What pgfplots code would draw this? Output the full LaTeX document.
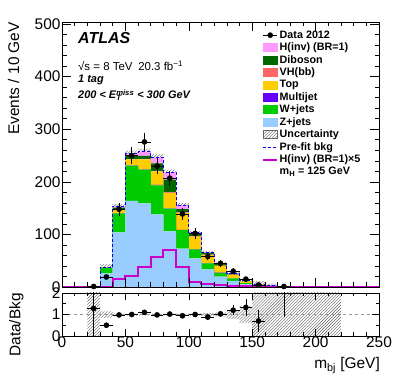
\documentclass[border=0pt]{standalone}
\usepackage{fontspec}
\setmainfont{Liberation Sans}
\usepackage{pgfplots}
\pgfplotsset{compat=1.18}
\usepackage{pgfplotstable}
\usepgfplotslibrary{fillbetween}
\usetikzlibrary{patterns}

\definecolor{zj}{RGB}{153,204,255}
\definecolor{wj}{RGB}{0,204,0}
\definecolor{mj}{RGB}{102,0,255}
\definecolor{topc}{RGB}{255,204,0}
\definecolor{vh}{RGB}{255,102,102}
\definecolor{dib}{RGB}{0,102,0}
\definecolor{hinv}{RGB}{255,153,255}
\definecolor{sigc}{RGB}{204,0,204}

% stacked backgrounds, per 10 GeV bin (lower edge)
\pgfplotstableread{
lo   Z     W    MJ   Top  VH   Dib  Sig
20   0.6   0.2  0    0    0    0    0
30   26    10   0.2  1    0    0.5  0.1
40   104   36   0.5  6    0.5  4    3
50   164   67   0.5  11   0.5  6    4.3
60   159   64   0.5  19   1    6    7.6
70   138   55.5 0.5  26   1    14   11.5
80   106   43   0.5  29   1.5  24   14
90   73    35   0.5  32   1.5  6    7.7
100  54.5  17   0.3  24   1    5    2
110  33.6  11.4 0.2  15.7 0.5  3.6  1.2
120  19.5  7.5  0.2  13   0.3  3    0.7
130  11.5  5    0.1  6.5  0.2  1.7  0.4
140  5.5   1.8  0.1  3.2  0.1  0.6  0.3
150  2.5   0.8  0    1.5  0    0.5  0.2
160  1.5   0.5  0    0.8  0    0.2  0.1
170  0.3   0.1  0    0.1  0    0    0
180  0.6   0.2  0    0.3  0    0    0
190  0.4   0.1  0    0.2  0    0    0
200  0.3   0.1  0    0.1  0    0    0
210  0.2   0.1  0    0.1  0    0    0
220  0     0    0    0    0    0    0
}\stacktab

% uncertainty band and pre-fit bkg
\pgfplotstableread{
lo   blo    bhi    pre
20   0      1.6    0.8
30   32.1   43.5   37.8
40   150.2  157.8  154
50   247.1  259.5  253.3
60   250.9  263.3  257.1
70   240.6  252.4  246.5
80   212.9  223.1  218
90   152    159.4  155.7
100  101.3  106.3  103.8
110  63.6   68.8   66.2
120  41.2   47.2   44.2
130  21.6   29.2   25.4
140  8.2    15     11.6
150  0      11     5.5
160  0      6.2    3.1
170  0      1      0.5
180  0      2.2    1.1
190  0      1.4    0.7
200  0      1      0.5
210  0      0.8    0.4
220  0      0      0
}\bandtab

% H(inv) x5
\pgfplotstableread{
x    s
0    0
10   0
20   0
30   0.5
40   15
50   21.5
60   38
70   57.5
80   70
90   38.5
100  10
110  6.5
120  4
130  2.5
140  1.5
150  1
160  0.5
170  0
250  0
}\sigtab

\pgfplotstableread{
x    y    ex  ey
25   1    5   1
35   19   5   4.4
45   148  5   12.2
55   250  5   15.8
65   276  5   16.6
75   230  5   15.2
85   207  5   14.4
95   139  5   11.8
105  102  5   10.1
115  58   5   7.6
125  45   5   6.7
135  30   5   5.5
145  15   5   3.9
155  4    5   2
175  1    5   1
}\datatab

\pgfplotstableread{
x    y     ex  ey
25   1.28  5   1.28
35   0.5   5   0.12
45   0.98  5   0.08
55   1.0   5   0.065
65   1.1   5   0.068
75   0.98  5   0.065
85   1.02  5   0.072
95   0.94  5   0.08
105  1.0   5   0.1
115  0.88  5   0.12
125  1.03  5   0.15
135  1.2   5   0.22
145  1.33  5   0.4
155  0.7   5   0.5
}\ratiotab

\pgfplotstableread{
lo   blo    bhi
20   0      2.5
30   0.85   1.15
40   0.96   1.04
50   0.965  1.035
60   0.965  1.035
70   0.965  1.035
80   0.965  1.035
90   0.96   1.04
100  0.955  1.045
110  0.94   1.06
120  0.9    1.1
130  0.8    1.2
140  0.6    1.4
150  0      2.5
160  0      2.5
170  0      2.5
180  0      2.5
190  0      2.5
200  0      2.5
210  0      2.5
220  0      0
}\rbandtab

\pgfplotsset{
  atlas/.style={
    scale only axis, anchor=south west, width=317bp,
    xmin=0, xmax=250,
    xtick={0,50,...,250}, minor x tick num=4,
    axis line style={line width=0.8bp},
    every tick/.style={black, line width=0.6bp},
    tick label style={font=\fontsize{15.5}{16}\selectfont},
    /pgf/number format/assume math mode=true,
  },
  boxleg/.style={legend image code/.code={\draw[##1] (0bp,-4bp) rectangle (14bp,4bp);}},
  lineleg/.style={legend image code/.code={\draw[##1] (0bp,0bp) -- (14bp,0bp);}},
  dataleg/.style={legend image code/.code={%
    \draw[black, line width=0.7bp] (0bp,0bp) -- (14bp,0bp);
    \fill[black] (7bp,0bp) circle (2.6bp);}},
}

\begin{document}
\begin{tikzpicture}

% main panel: stack
\begin{axis}[atlas, at={(62bp,96bp)}, height=265bp,
    ymin=0, ymax=504, ytick={0,100,...,500}, minor y tick num=4,
    xticklabels={}, major tick length=9bp, minor tick length=4.5bp,
    yticklabel style={xshift=2bp},
    stack plots=y]
\addplot[fill=zj, draw=none, const plot mark left] table[x=lo, y=Z] {\stacktab} \closedcycle;
\addplot[fill=wj, draw=none, const plot mark left] table[x=lo, y=W] {\stacktab} \closedcycle;
\addplot[fill=mj, draw=none, const plot mark left] table[x=lo, y=MJ] {\stacktab} \closedcycle;
\addplot[fill=topc, draw=none, const plot mark left] table[x=lo, y=Top] {\stacktab} \closedcycle;
\addplot[fill=vh, draw=none, const plot mark left] table[x=lo, y=VH] {\stacktab} \closedcycle;
\addplot[fill=dib, draw=none, const plot mark left] table[x=lo, y=Dib] {\stacktab} \closedcycle;
\addplot[fill=hinv, draw=none, const plot mark left] table[x=lo, y=Sig] {\stacktab} \closedcycle;
\end{axis}

% main panel: overlays, frame and legend
\begin{axis}[atlas, at={(62bp,96bp)}, height=265bp,
    ymin=0, ymax=504, ytick={0,100,...,500}, minor y tick num=4,
    xticklabels={}, yticklabels={}, major tick length=9bp, minor tick length=4.5bp,
    axis on top,
    legend style={at={(0.631,0.968)}, anchor=north west, draw=none, fill=none,
      inner sep=0pt, row sep=3.2bp, font=\fontsize{10.8}{11.7}\selectfont\bfseries,
      nodes={inner ysep=0pt, inner xsep=1.5bp}},
    legend cell align=left]
\addplot[name path=bu, draw=none, const plot mark left, forget plot] table[x=lo, y=bhi] {\bandtab};
\addplot[name path=bl, draw=none, const plot mark left, forget plot] table[x=lo, y=blo] {\bandtab};
\addplot[pattern=north east lines, pattern color=black!60, draw=none, forget plot] fill between[of=bu and bl];
\addplot[blue, densely dashed, line width=0.8bp, const plot mark left, forget plot] table[x=lo, y=pre] {\bandtab};
\addplot[sigc, line width=2bp, const plot mark left, forget plot] table[x=x, y=s] {\sigtab};
\addplot[black, only marks, mark=*, mark size=2.6bp, forget plot,
    error bars/.cd, x dir=both, x explicit, y dir=both, y explicit, error mark=none,
    error bar style={line width=0.7bp}]
    table[x=x, y=y, x error=ex, y error=ey] {\datatab};
\addlegendimage{dataleg}
\addlegendentry{Data 2012}
\addlegendimage{boxleg, fill=hinv, draw=hinv}
\addlegendentry{H(inv) (BR=1)}
\addlegendimage{boxleg, fill=dib, draw=dib}
\addlegendentry{Diboson}
\addlegendimage{boxleg, fill=vh, draw=vh}
\addlegendentry{VH(bb)}
\addlegendimage{boxleg, fill=topc, draw=topc}
\addlegendentry{Top}
\addlegendimage{boxleg, fill=mj, draw=mj}
\addlegendentry{Multijet}
\addlegendimage{boxleg, fill=wj, draw=wj}
\addlegendentry{W+jets}
\addlegendimage{boxleg, fill=zj, draw=zj}
\addlegendentry{Z+jets}
\addlegendimage{boxleg, pattern=north east lines, pattern color=black!60, draw=black!60}
\addlegendentry{Uncertainty}
\addlegendimage{lineleg, blue, densely dashed, line width=0.8bp}
\addlegendentry{Pre-fit bkg}
\addlegendimage{lineleg, sigc, line width=2bp}
\addlegendentry{H(inv) (BR=1)×5}
\addlegendimage{empty legend}
\addlegendentry{m\textsubscript{H} = 125 GeV}
\end{axis}

% ratio panel
\begin{axis}[atlas, at={(62bp,47bp)}, height=43bp,
    ymin=0, ymax=2, ytick={0,1,2}, minor ytick={0.5,1.5},
    major tick length=7bp, minor tick length=3.5bp,
    yticklabel style={xshift=2bp}, xticklabel style={yshift=2.5bp},
    axis on top]
\addplot[name path=ru, draw=none, const plot mark left] table[x=lo, y=bhi] {\rbandtab};
\addplot[name path=rl, draw=none, const plot mark left] table[x=lo, y=blo] {\rbandtab};
\addplot[pattern=north east lines, pattern color=black!60, draw=none] fill between[of=ru and rl];
\addplot[black!40, dashed, line width=0.5bp] coordinates {(0,1) (250,1)};
\addplot[black, line width=0.7bp] coordinates {(175,0.9) (175,2.1)};
\addplot[black, only marks, mark=*, mark size=2.6bp,
    error bars/.cd, x dir=both, x explicit, y dir=both, y explicit, error mark=none,
    error bar style={line width=0.7bp}]
    table[x=x, y=y, x error=ex, y error=ey] {\ratiotab};
\end{axis}

% titles and labels
\node[rotate=90, anchor=east, inner sep=0pt] at (13.5bp,361bp)
  {\fontsize{15.5}{16}\selectfont Events / 10 GeV};
\node[rotate=90, anchor=east, inner sep=0pt] at (16.5bp,90bp)
  {\fontsize{15.5}{16}\selectfont Data/Bkg};
\node[anchor=base east, inner sep=0pt] at (380bp,14.5bp)
  {\fontsize{15.5}{16}\selectfont m\textsubscript{bj} [GeV]};
\node[anchor=base west, inner sep=0pt] at (78bp,339bp)
  {\fontsize{16}{16}\selectfont\bfseries\itshape ATLAS};
\node[anchor=base west, inner sep=0pt] at (78bp,312.5bp)
  {\fontsize{11.5}{12}\selectfont √s = 8 TeV\enspace 20.3 fb\textsuperscript{−1}};
\node[anchor=base west, inner sep=0pt] at (78bp,300bp)
  {\fontsize{11}{12}\selectfont\bfseries\itshape 1 tag};
\node[anchor=base west, inner sep=0pt] at (78bp,284bp)
  {\fontsize{11}{12}\selectfont\bfseries\itshape 200 < E\rlap{\textsubscript{T}}\textsuperscript{miss} < 300 GeV};

\pgfresetboundingbox
\useasboundingbox (0,0) rectangle (399bp,383bp);
\end{tikzpicture}
\end{document}
